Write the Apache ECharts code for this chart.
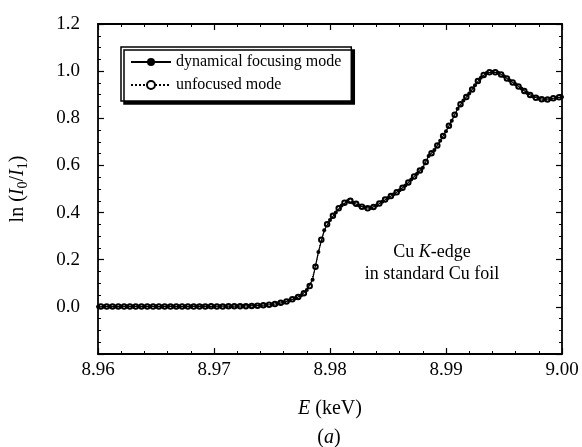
<!DOCTYPE html>
<html>
<head>
<meta charset="utf-8">
<script src="https://cdn.jsdelivr.net/npm/echarts@6/dist/echarts.min.js"></script>
<style>html,body{margin:0;padding:0;background:#fff}#c{width:582px;height:447px}</style>
</head>
<body>
<div id="c"></div>
<script>
// ---- data ----
var focusedE = [8.9600,8.9605,8.9610,8.9615,8.9620,8.9625,8.9630,8.9635,8.9640,8.9645,8.9650,8.9655,8.9660,8.9665,8.9670,8.9675,8.9680,8.9685,8.9690,8.9695,8.9700,8.9705,8.9710,8.9715,8.9720,8.9725,8.9730,8.9735,8.9740,8.9745,8.9750,8.9755,8.9760,8.9765,8.9770,8.9775,8.9780,8.9785,8.9790,8.9795,8.9800,8.9805,8.9810,8.9815,8.9820,8.9825,8.9830,8.9835,8.9840,8.9845,8.9850,8.9855,8.9860,8.9865,8.9870,8.9875,8.9880,8.9885,8.9890,8.9895,8.9900,8.9905,8.9910,8.9915,8.9920,8.9925,8.9930,8.9935,8.9940,8.9945,8.9950,8.9955,8.9960,8.9965,8.9970,8.9975,8.9980,8.9985,8.9990,8.9995,9.0000];
var focusedLn = [0.000,0.001,0.001,0.002,0.001,0.002,0.002,0.001,0.002,0.002,0.001,0.002,0.002,0.002,0.001,0.002,0.002,0.002,0.003,0.002,0.002,0.003,0.003,0.003,0.003,0.004,0.004,0.005,0.006,0.008,0.010,0.014,0.019,0.027,0.036,0.048,0.072,0.115,0.233,0.325,0.368,0.400,0.430,0.448,0.442,0.430,0.421,0.419,0.430,0.446,0.462,0.478,0.495,0.515,0.540,0.565,0.590,0.640,0.665,0.705,0.745,0.790,0.840,0.875,0.905,0.940,0.972,0.992,0.996,0.993,0.978,0.960,0.944,0.926,0.907,0.892,0.884,0.880,0.882,0.887,0.890];
var unfocusedE = [8.96025,8.96075,8.96125,8.96175,8.96225,8.96275,8.96325,8.96375,8.96425,8.96475,8.96525,8.96575,8.96625,8.96675,8.96725,8.96775,8.96825,8.96875,8.96925,8.96975,8.97025,8.97075,8.97125,8.97175,8.97225,8.97275,8.97325,8.97375,8.97425,8.97475,8.97525,8.97575,8.97625,8.97675,8.97725,8.97775,8.97825,8.97875,8.97925,8.97975,8.98025,8.98075,8.98125,8.98175,8.98225,8.98275,8.98325,8.98375,8.98425,8.98475,8.98525,8.98575,8.98625,8.98675,8.98725,8.98775,8.98825,8.98875,8.98925,8.98975,8.99025,8.99075,8.99125,8.99175,8.99225,8.99275,8.99325,8.99375,8.99425,8.99475,8.99525,8.99575,8.99625,8.99675,8.99725,8.99775,8.99825,8.99875,8.99925,8.99975];
var unfocusedLn = [0.002,0.001,0.002,0.002,0.001,0.002,0.001,0.002,0.002,0.001,0.002,0.002,0.001,0.002,0.002,0.002,0.001,0.002,0.002,0.003,0.002,0.002,0.003,0.003,0.003,0.003,0.004,0.005,0.007,0.009,0.012,0.017,0.023,0.032,0.042,0.058,0.088,0.170,0.285,0.350,0.386,0.418,0.442,0.450,0.437,0.425,0.418,0.424,0.438,0.455,0.470,0.486,0.505,0.528,0.553,0.578,0.615,0.652,0.685,0.725,0.768,0.815,0.860,0.890,0.922,0.958,0.984,0.995,0.995,0.986,0.969,0.952,0.935,0.916,0.899,0.887,0.881,0.880,0.885,0.889];
var seriesNames = ['dynamical focusing mode', 'unfocused mode'];
var xMin = 8.96, xMax = 9.00, xStep = 0.01;
var yMin = -0.2, yMax = 1.2, yStep = 0.2;

function zip(a, b) { return a.map(function (v, i) { return [v, b[i]]; }); }

var FONT = "'Liberation Serif','DejaVu Serif',serif";
var chart = echarts.init(document.getElementById('c'), null, {renderer: 'canvas'});

var axisLine = {show: true, onZero: false, lineStyle: {color: '#000', width: 1.8}};
var tick = {show: true, inside: true, length: 6, lineStyle: {color: '#000', width: 1.2}};
var xMinor = {show: true, splitNumber: 5, length: 3, lineStyle: {color: '#000', width: 1}};
var yMinor = {show: true, splitNumber: 4, length: 3, lineStyle: {color: '#000', width: 1}};

chart.setOption({
  animation: false,
  backgroundColor: '#fff',
  grid: {left: 97, top: 24, right: 20, bottom: 93, containLabel: false},
  legend: {
    orient: 'vertical', left: 121, top: 47,
    data: seriesNames,
    itemWidth: 40, itemHeight: 10, itemGap: 7,
    padding: [7, 10, 8, 9],
    borderColor: '#000', borderWidth: 1.5,
    backgroundColor: '#fff',
    shadowColor: '#000', shadowBlur: 0, shadowOffsetX: 3, shadowOffsetY: 3,
    textStyle: {fontFamily: FONT, fontSize: 16, color: '#000'}
  },
  xAxis: [{
    type: 'value', min: xMin, max: xMax, interval: xStep,
    name: '{i|E} (keV)', nameLocation: 'middle', nameGap: 45,
    nameTextStyle: {fontFamily: FONT, fontSize: 20, color: '#000', rich: {i: {fontFamily: FONT, fontStyle: 'italic', fontSize: 20, color: '#000'}}},
    axisLine: axisLine, axisTick: tick, minorTick: xMinor, splitLine: {show: false},
    axisLabel: {fontFamily: FONT, fontSize: 19, color: '#000', margin: 7, formatter: function (v) { return v.toFixed(2); }}
  }, {
    type: 'value', position: 'top', min: xMin, max: xMax, interval: xStep,
    axisLine: axisLine, axisTick: tick, minorTick: xMinor, splitLine: {show: false},
    axisLabel: {show: false}
  }],
  yAxis: [{
    type: 'value', min: yMin, max: yMax, interval: yStep,
    name: 'ln ({i|I}{s|0}/{i|I}{s|1})', nameLocation: 'middle', nameGap: 68, nameRotate: 90,
    nameTextStyle: {fontFamily: FONT, fontSize: 20, color: '#000',
      rich: {i: {fontFamily: FONT, fontStyle: 'italic', fontSize: 20, color: '#000'},
             s: {fontFamily: FONT, fontSize: 14, color: '#000', verticalAlign: 'bottom', padding: [10, 0, 0, 0]}}},
    axisLine: axisLine, axisTick: tick, minorTick: yMinor, splitLine: {show: false},
    axisLabel: {fontFamily: FONT, fontSize: 19, color: '#000', margin: 18,
      formatter: function (v) { return v < -0.1 ? '' : v.toFixed(1); }}
  }, {
    type: 'value', position: 'right', min: yMin, max: yMax, interval: yStep,
    axisLine: axisLine, axisTick: tick, minorTick: yMinor, splitLine: {show: false},
    axisLabel: {show: false}
  }],
  series: [{
    name: seriesNames[0], type: 'line', data: zip(focusedE, focusedLn),
    symbol: 'circle', symbolSize: 4, showSymbol: true, showAllSymbol: true,
    itemStyle: {color: '#000'}, lineStyle: {color: '#000', width: 1.2}, z: 3
  }, {
    name: seriesNames[1], type: 'line', data: zip(unfocusedE, unfocusedLn),
    symbol: 'emptyCircle', symbolSize: 4.5, showSymbol: true, showAllSymbol: true,
    itemStyle: {color: '#000', borderColor: '#000', borderWidth: 1},
    lineStyle: {color: '#000', width: 1, type: 'dotted'}, z: 2
  }],
  graphic: [{
    type: 'text', x: 432, y: 252,
    style: {text: 'Cu {i|K}-edge', fontFamily: FONT, fontSize: 18, fill: '#000', align: 'center', verticalAlign: 'middle',
      rich: {i: {fontFamily: FONT, fontStyle: 'italic', fontSize: 18, fill: '#000'}}}
  }, {
    type: 'text', x: 432, y: 274,
    style: {text: 'in standard Cu foil', fontFamily: FONT, fontSize: 18, fill: '#000', align: 'center', verticalAlign: 'middle'}
  }, {
    type: 'text', x: 329, y: 438,
    style: {text: '({i|a})', fontFamily: FONT, fontSize: 20, fill: '#000', align: 'center', verticalAlign: 'middle',
      rich: {i: {fontFamily: FONT, fontStyle: 'italic', fontSize: 20, fill: '#000'}}}
  }]
});
</script>
</body>
</html>
